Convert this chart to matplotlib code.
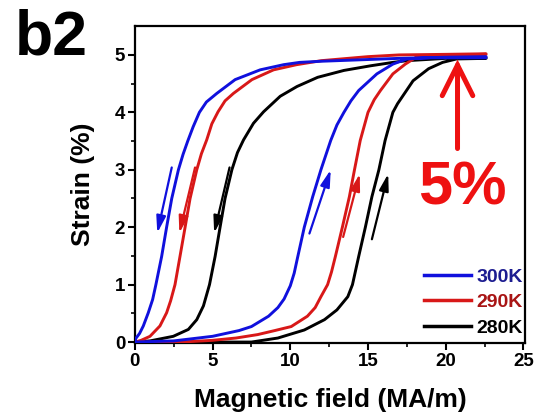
import numpy as np
import matplotlib
matplotlib.use("Agg")
import matplotlib.pyplot as plt

plt.rcParams['font.family'] = ['Liberation Sans', 'DejaVu Sans']
plt.rcParams['font.weight'] = 'bold'

# ---------------- data ----------------
labels = ["300K", "290K", "280K"]

# 300 K
field_up_300 = [0, 2.5, 5.0, 6.7, 7.5, 8.6, 9.2, 9.6, 10.0, 10.25, 10.45, 10.9, 11.44, 11.97, 12.6, 13.0, 13.45, 13.9, 14.4, 15.57, 16.6, 17.5, 19.0, 21.0, 22.6]
strain_up_300 = [0.0, 0.02, 0.1, 0.2, 0.27, 0.45, 0.6, 0.75, 0.98, 1.2, 1.45, 2.0, 2.53, 3.0, 3.51, 3.78, 4.0, 4.2, 4.38, 4.67, 4.84, 4.93, 4.95, 4.95, 4.95]
field_dn_300 = [22.6, 20, 17, 14, 12, 10.6, 9.57, 8.06, 6.45, 5.27, 4.6, 4.15, 3.75, 3.4, 3.1, 2.8, 2.37, 2.04, 1.72, 1.35, 1.14, 0.86, 0.54, 0.3, 0.05, 0]
strain_dn_300 = [4.97, 4.96, 4.94, 4.91, 4.89, 4.87, 4.83, 4.74, 4.57, 4.33, 4.18, 4.0, 3.75, 3.5, 3.27, 3.0, 2.5, 2.0, 1.49, 1.0, 0.74, 0.51, 0.28, 0.15, 0.06, 0.0]

# 290 K
field_up_290 = [0, 3, 5.0, 6.5, 7.9, 9.0, 10.06, 11.1, 11.6, 11.97, 12.4, 12.65, 12.9, 13.35, 13.8, 14.13, 14.5, 15.0, 15.4, 15.8, 16.6, 17.4, 18.1, 20, 22.6]
strain_up_290 = [0.0, 0.0, 0.03, 0.07, 0.13, 0.2, 0.27, 0.45, 0.6, 0.79, 1.0, 1.22, 1.49, 2.0, 2.53, 3.0, 3.51, 4.0, 4.22, 4.38, 4.67, 4.84, 4.96, 5.0, 5.01]
field_dn_290 = [22.6, 20, 17, 15, 12, 10.4, 8.92, 7.53, 6.34, 5.8, 5.35, 4.95, 4.62, 4.28, 3.98, 3.55, 3.23, 2.9, 2.58, 2.3, 2.04, 1.61, 0.97, 0.4, 0]
strain_dn_290 = [5.02, 5.01, 5.0, 4.97, 4.9, 4.83, 4.74, 4.57, 4.33, 4.2, 4.01, 3.8, 3.52, 3.28, 3.0, 2.5, 2.0, 1.49, 1.0, 0.72, 0.51, 0.28, 0.1, 0.03, 0.0]

# 280 K
field_up_280 = [0, 5, 7.5, 9.2, 10.9, 12.2, 13.0, 13.7, 14.0, 14.4, 14.83, 15.25, 15.7, 16.1, 16.6, 16.9, 17.2, 17.9, 18.9, 19.8, 20.7, 22.6]
strain_up_280 = [0.0, 0.0, 0.0, 0.07, 0.21, 0.39, 0.56, 0.79, 1.0, 1.49, 2.0, 2.53, 3.0, 3.51, 4.0, 4.15, 4.27, 4.55, 4.76, 4.87, 4.93, 4.94]
field_dn_280 = [22.6, 20, 17.5, 16.6, 15.15, 13.45, 11.76, 10.43, 9.35, 8.28, 7.63, 6.99, 6.6, 6.24, 5.8, 5.48, 5.16, 4.8, 4.41, 3.98, 3.44, 2.47, 0.97, 0]
strain_dn_280 = [4.95, 4.94, 4.9, 4.87, 4.81, 4.73, 4.61, 4.45, 4.28, 4.01, 3.81, 3.52, 3.3, 3.0, 2.5, 2.0, 1.49, 1.0, 0.63, 0.39, 0.22, 0.1, 0.02, 0.0]

# small direction arrows (tail -> tip) in data units
arrow_tails = [(2.37, 3.04), (3.87, 3.04), (6.09, 3.04), (11.23, 1.89), (13.4, 1.83), (15.25, 1.79)]
arrow_tips = [(1.44, 1.9), (2.86, 1.9), (5.1, 1.9), (12.6, 3.0), (14.47, 2.93), (16.3, 2.93)]

xticks = [0, 5, 10, 15, 20, 25]
yticks = [0, 1, 2, 3, 4, 5]

# ---------------- styling ----------------
line_colors = ['#1010dd', '#d81818', '#000000']
label_colors = ['#1c1c90', '#a81414', '#000000']
arrow_colors = ['#1010dd', '#d81818', '#000000', '#1010dd', '#d81818', '#000000']

fig = plt.figure(figsize=(5.44, 4.16), dpi=100)
ax = fig.add_axes([0.248, 0.175, 0.717, 0.762])

loops = [
    (field_up_300, strain_up_300, field_dn_300, strain_dn_300),
    (field_up_290, strain_up_290, field_dn_290, strain_dn_290),
    (field_up_280, strain_up_280, field_dn_280, strain_dn_280),
]
handles = {}
for i in [2, 1, 0]:
    fu, su, fd, sd = loops[i]
    x = np.concatenate([fu, fd])
    y = np.concatenate([su, sd])
    h, = ax.plot(x, y, color=line_colors[i], lw=2.1, zorder=3 + (2 - i),
                 solid_joinstyle='round', label=labels[i])
    handles[i] = h
handles = [handles[0], handles[1], handles[2]]

for (tx, ty), (hx, hy), c in zip(arrow_tails, arrow_tips, arrow_colors):
    ax.annotate('', xy=(hx, hy), xytext=(tx, ty),
                arrowprops=dict(arrowstyle='-|>,head_length=1.0,head_width=0.28',
                                color=c, lw=1.6, shrinkA=0, shrinkB=0), zorder=6)

# big red arrow and 5% label
ax.annotate('', xy=(20.76, 4.92), xytext=(20.76, 3.37),
            arrowprops=dict(arrowstyle='->,head_length=2.2,head_width=1.1',
                            color='#ee1111', lw=3.6, shrinkA=0, shrinkB=0,
                            joinstyle='miter'), zorder=7)
ax.text(21.1, 2.67, '5%', color='#ee1111', fontsize=44, fontweight='bold',
        ha='center', va='center', zorder=7)

ax.set_xlim(0, 25.1)
ax.set_ylim(-0.02, 5.5)
ax.set_xticks(xticks)
ax.set_yticks(yticks)
ax.set_xticks(np.arange(2.5, 25, 5), minor=True)
ax.set_yticks(np.arange(0.5, 5.5, 1), minor=True)
ax.tick_params(which='major', direction='out', length=5, width=1.5, labelsize=13.5, pad=2)
ax.tick_params(which='minor', direction='out', length=3, width=1.2)
for lab in ax.get_xticklabels() + ax.get_yticklabels():
    lab.set_fontweight('bold')
for s in ax.spines.values():
    s.set_linewidth(1.6)

ax.set_xlabel('Magnetic field (MA/m)', fontsize=19, fontweight='bold', labelpad=13)
ax.set_ylabel('Strain (%)', fontsize=19, fontweight='bold', labelpad=14)

leg = ax.legend(handles=handles, loc='lower right', bbox_to_anchor=(1.02, -0.01),
                frameon=False, fontsize=14, handlelength=2.4, handletextpad=0.3,
                labelspacing=0.4, borderpad=0.3, borderaxespad=0.2)
for t, c in zip(leg.get_texts(), label_colors):
    t.set_color(c)
    t.set_fontweight('bold')
for l in leg.get_lines():
    l.set_linewidth(2.5)

fig.text(0.027, 0.868, 'b2', fontsize=45, fontweight='bold', ha='left', va='baseline')

fig.savefig('out.png', dpi=100)
